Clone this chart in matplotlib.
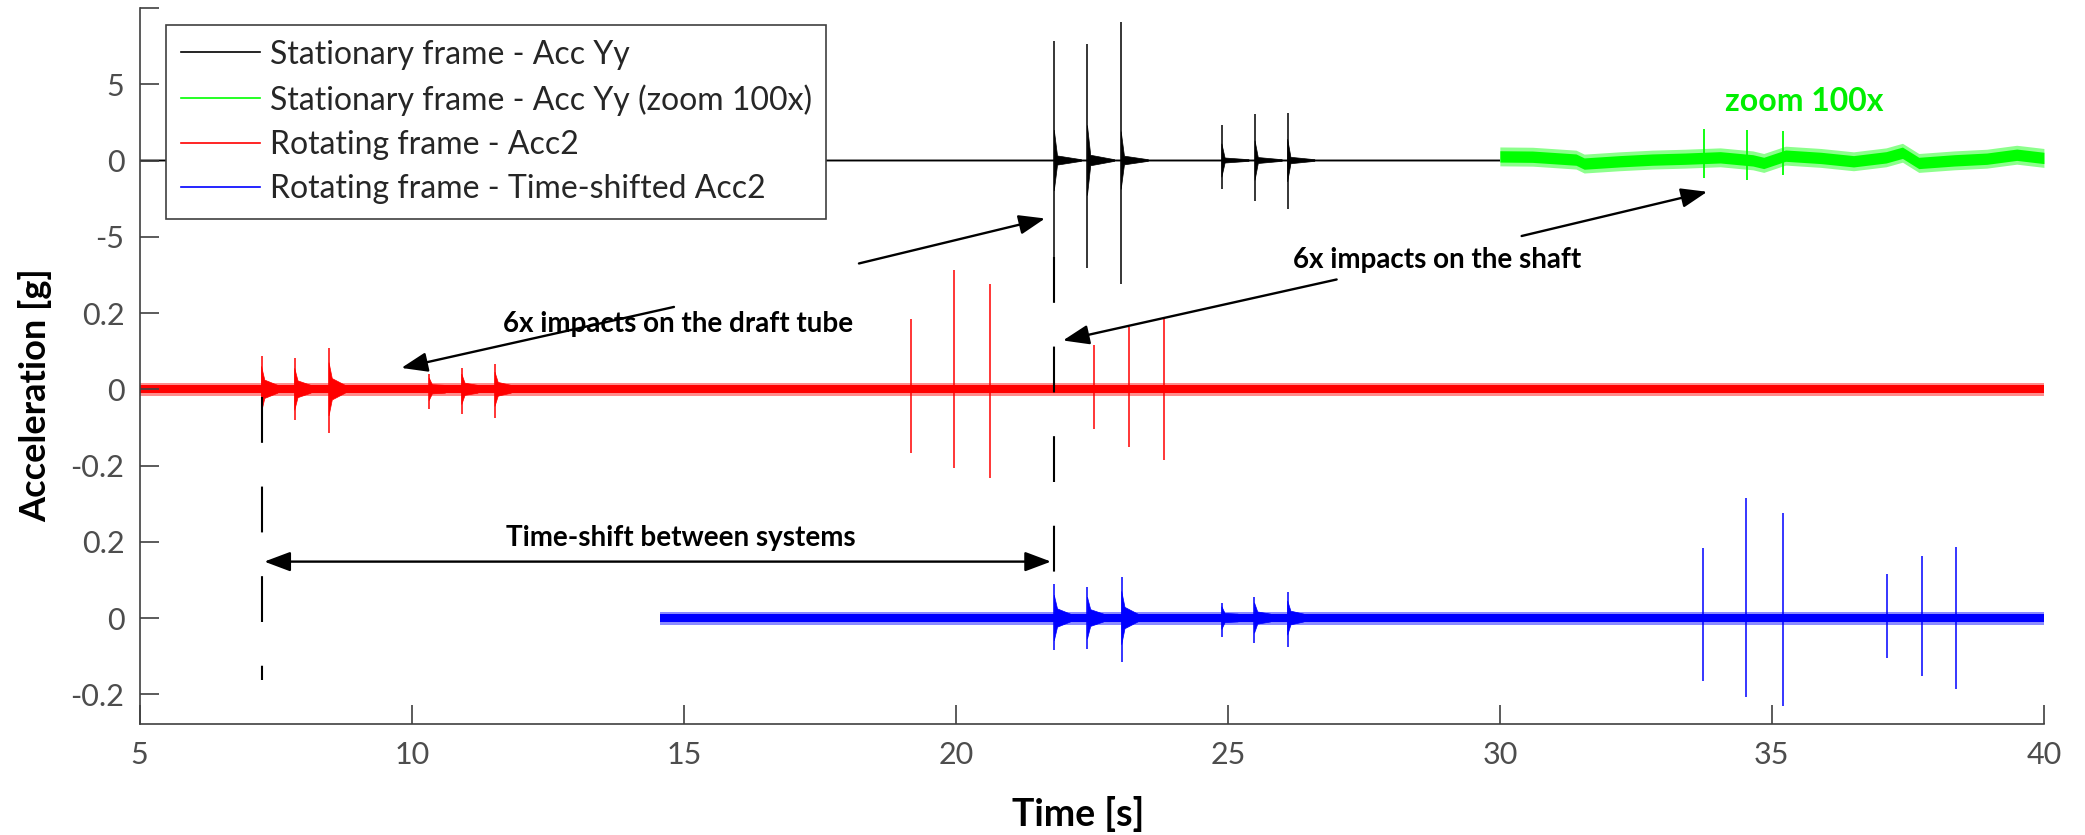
import numpy as np
import matplotlib
matplotlib.use('Agg')
from matplotlib import pyplot as plt
from matplotlib.lines import Line2D

plt.rcParams['font.family'] = ['Lato', 'DejaVu Sans']

# stationary frame - Acc Yy [g] (shown from 5 s to 30 s)
yy_start, yy_end = 5.0, 30.0
yy_noise = 0.09
yy_spike_t = [21.81, 22.42, 23.04, 24.89, 25.50, 26.10]
yy_spike_hi = [7.86, 7.64, 9.10, 2.33, 3.03, 3.13]
yy_spike_lo = [-7.05, -7.04, -8.10, -1.89, -2.65, -3.19]
yy_ring = [2.0, 2.3, 1.9, 1.1, 1.3, 1.4]

# same signal zoomed 100x (30 s to 40 s)
zoom_t = [30.0, 30.6, 31.4, 31.55, 32.2, 32.8, 33.4, 34.05, 34.65, 34.85,
          35.25, 35.9, 36.5, 37.1, 37.4, 37.7, 38.35, 38.95, 39.5, 40.0]
zoom_mid = [0.27, 0.25, 0.06, -0.20, -0.05, 0.06, 0.12, 0.21, 0.01, -0.16,
            0.32, 0.17, -0.05, 0.21, 0.51, -0.16, 0.01, 0.12, 0.38, 0.17]
zoom_noise = 0.62
zoom_spike_t = [33.75, 34.54, 35.21]
zoom_spike_hi = [2.05, 2.00, 1.94]
zoom_spike_lo = [-1.13, -1.29, -0.98]

# rotating frame - Acc2 [g], record starts at 0 s
acc2_start, acc2_end = 0.0, 40.0
acc2_noise = 0.017
acc2_spike_t = [7.24, 7.85, 8.48, 10.32, 10.92, 11.53,
                19.17, 19.96, 20.63, 22.54, 23.18, 23.82]
acc2_spike_hi = [0.088, 0.082, 0.107, 0.039, 0.055, 0.067,
                 0.184, 0.314, 0.276, 0.116, 0.164, 0.186]
acc2_spike_lo = [-0.085, -0.080, -0.115, -0.051, -0.065, -0.076,
                 -0.166, -0.206, -0.232, -0.104, -0.152, -0.185]
acc2_ring = [0.06, 0.055, 0.07, 0.03, 0.04, 0.045, 0, 0, 0, 0, 0, 0]

# time shift between the two systems [s]
time_shift = 14.57

xticks = [5, 10, 15, 20, 25, 30, 35, 40]
ytick_pos = [-1, 0, 1, 2, 3, 4, 5, 6, 7, 8]
ytick_labels = ['-0.2', '0', '0.2', '-0.2', '0', '0.2', '-5', '0', '5', '']


# stacking of the three panels on one axis
def y_top(v):
    return np.asarray(v, dtype=float) / 5.0 + 6.0


def y_mid(v):
    return np.asarray(v, dtype=float) * 5.0 + 3.0


def y_bot(v):
    return np.asarray(v, dtype=float) * 5.0


def band(ax, t, mid, noise, yf, color):
    # solid core plus a lighter fringe, looks a bit like a dense noisy trace
    mid = np.asarray(mid, dtype=float)
    ax.fill_between(t, yf(mid - noise), yf(mid + noise), color=color,
                    lw=0, alpha=0.45)
    ax.fill_between(t, yf(mid - 0.6 * noise), yf(mid + 0.6 * noise),
                    color=color, lw=0)


def draw_trace(ax, t0, t1, noise, st, hi, lo, ring, yf, color, ring_len, tail):
    band(ax, [t0, t1], [0, 0], noise, yf, color)
    st = np.asarray(st)
    keep = (st >= t0) & (st <= t1)
    ax.vlines(st[keep], yf(np.asarray(lo)[keep]), yf(np.asarray(hi)[keep]),
              color=color, lw=1.1)
    for t, r in zip(st[keep], np.asarray(ring)[keep]):
        if r > 0:
            ax.fill([t, t + 0.06, t + ring_len, t + ring_len, t + 0.06, t],
                    yf([r, tail * r, 0.6 * noise, -0.6 * noise, -tail * r, -r]),
                    color=color, lw=0.5)


fig = plt.figure(figsize=(20.85, 8.35), dpi=100)
ax = fig.add_axes([0.0670, 0.1329, 0.9133, 0.8575])

# black - stationary frame
draw_trace(ax, yy_start, yy_end, yy_noise, yy_spike_t, yy_spike_hi,
           yy_spike_lo, yy_ring, y_top, 'black', 0.5, 0.15)

# green - zoomed stationary frame
band(ax, zoom_t, zoom_mid, zoom_noise, y_top, '#00ff00')
ax.vlines(zoom_spike_t, y_top(zoom_spike_lo), y_top(zoom_spike_hi),
          color='#00ff00', lw=1.3)

# red - rotating frame
draw_trace(ax, acc2_start, acc2_end, acc2_noise, acc2_spike_t, acc2_spike_hi,
           acc2_spike_lo, acc2_ring, y_mid, 'red', 0.3, 0.4)

# blue - time-shifted rotating frame
draw_trace(ax, acc2_start + time_shift, acc2_end, acc2_noise,
           np.asarray(acc2_spike_t) + time_shift, acc2_spike_hi,
           acc2_spike_lo, acc2_ring, y_bot, 'blue', 0.3, 0.4)

# dashed guides
dash = (0, (22, 21))
ax.plot([7.25, 7.25], [y_mid(-0.02), y_bot(-0.163)], color='black',
        lw=1.5, linestyle=dash)
ax.plot([21.80, 21.80], [y_top(-6.3), y_bot(0.089)], color='black',
        lw=1.5, linestyle=dash)

# annotations
head = '-|>,head_length=0.8,head_width=0.3'
arrow = dict(arrowstyle=head, color='black', lw=1.7, mutation_scale=20,
             shrinkA=0, shrinkB=0)
txt = dict(fontsize=20, fontweight='bold', ha='center', va='center')

ax.annotate('', xy=(7.29, 0.74), xytext=(21.75, 0.74),
            arrowprops=dict(arrow, arrowstyle='<|' + head))
ax.text(14.95, 1.05, 'Time-shift between systems', **txt)

ax.text(14.9, 3.86, '6x impacts on the draft tube', **txt)
ax.annotate('', xy=(21.64, 5.24), xytext=(18.22, 4.65), arrowprops=arrow)
ax.annotate('', xy=(9.81, 3.28), xytext=(14.82, 4.08), arrowprops=arrow)

ax.text(28.85, 4.70, '6x impacts on the shaft', **txt)
ax.annotate('', xy=(21.97, 3.64), xytext=(27.0, 4.44), arrowprops=arrow)
ax.annotate('', xy=(33.81, 5.59), xytext=(30.40, 5.01), arrowprops=arrow)

ax.text(35.6, 6.77, 'zoom 100x', color='#00ee00', fontsize=23,
        fontweight='bold', ha='center', va='center')

# axes styling
axcol = '#404040'
ax.set_xlim(5, 40)
ax.set_ylim(-1.39, 8)
ax.set_xticks(xticks)
ax.set_yticks(ytick_pos)
ax.set_yticklabels(ytick_labels)
for s in ['top', 'right']:
    ax.spines[s].set_visible(False)
for s in ['left', 'bottom']:
    ax.spines[s].set_color(axcol)
    ax.spines[s].set_linewidth(1.2)
ax.tick_params(direction='in', length=14, width=1.2, color=axcol,
               labelcolor='#4d4d4d', labelsize=22)
ax.tick_params(axis='x', pad=12)
ax.tick_params(axis='y', pad=11)

ax.set_xlabel('Time [s]', fontsize=27, fontweight='bold')
ax.set_ylabel('Acceleration [g]', fontsize=26, fontweight='bold')
ax.xaxis.set_label_coords(0.493, -0.10)
ax.yaxis.set_label_coords(-0.046, 0.46)

handles = [Line2D([], [], color='black', lw=1.2),
           Line2D([], [], color='#00ff00', lw=1.2),
           Line2D([], [], color='red', lw=1.2),
           Line2D([], [], color='blue', lw=1.2)]
labels = ['Stationary frame - Acc Yy',
          'Stationary frame - Acc Yy (zoom 100x)',
          'Rotating frame - Acc2',
          'Rotating frame - Time-shifted Acc2']
leg = ax.legend(handles, labels, loc='upper left',
                bbox_to_anchor=(0.0139, 0.976), borderaxespad=0,
                fontsize=23, handlelength=2.5, handletextpad=0.3,
                labelspacing=0.45, borderpad=0.45, fancybox=False,
                framealpha=1, edgecolor=axcol)
leg.get_frame().set_linewidth(1.2)
for t in leg.get_texts():
    t.set_color('#262626')

plt.savefig('out.png', dpi=100)
